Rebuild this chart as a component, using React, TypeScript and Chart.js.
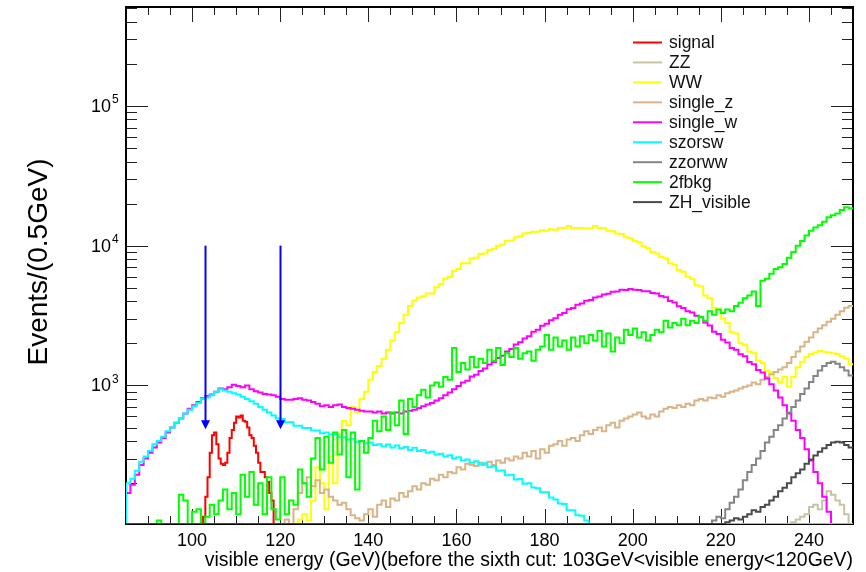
import React, { useEffect, useRef } from 'react';
import { Chart, registerables } from 'chart.js';

Chart.register(...registerables);

// ---- axis ranges ----
const X_MIN = 85;
const X_MAX = 250;
const Y_MIN = 102;
const Y_MAX = 5.1e5;
const FLOOR = Y_MIN;

const X_MAJOR_TICKS = [100, 120, 140, 160, 180, 200, 220, 240];
const Y_MAJOR_EXPONENTS = [3, 4, 5];

const X_TITLE = 'visible energy (GeV)(before the sixth cut: 103GeV<visible energy<120GeV)';
const Y_TITLE = 'Events/(0.5GeV)';

const ARROW_X = [103, 120];
const ARROW_TOP = 1e4;
const ARROW_TIP = 485;

// ---- series (start of first bin, bin width, contents) ----
const signalStart = 102.5;
const signalBin = 0.5;
const signal = [115, 160, 220, 330, 440, 460, 380, 300, 275, 270, 280, 330, 420, 480, 540, 600,
  590, 610, 560, 550, 500, 440, 420, 370, 330, 280, 240, 240, 220, 205, 170, 150];

const zzStart = 236;
const zz = [105, 110, 115, 120, 135, 140, 130, 150, 175, 165, 150, 140, 120];

const wwStart = 124;
const ww = [
  110, 120, 108, 150, 260, 200, 130, 310, 200, 450, 560, 520, 700, 640, 800, 900, // 124-139
  1100, 1250, 1380, 1550, 1800, 2100, 2400, 2800, 3200, 3700, // 140-149
  4050, 4250, 4350, 4550, 4550, 5050, 5300, 5800, 6000, 6600, // 150-159
  6800, 7500, 7500, 8100, 8200, 8700, 8800, 9300, 9500, 10000, // 160-169
  10200, 10800, 10900, 11500, 11700, 12200, 12300, 12600, 12600, 12900, // 170-179
  12800, 13100, 13000, 13400, 13400, 13800, 13400, 13400, 13300, 13300, // 180-189
  13300, 13800, 13400, 13300, 12800, 12700, 12200, 12100, 11500, 11300, // 190-199
  10800, 10600, 9900, 9600, 9000, 8800, 8300, 8100, 7500, 7300, // 200-209
  6700, 6500, 6000, 5800, 5200, 5100, 4400, 4200, 3600, 3500, // 210-219
  3000, 2800, 2400, 2350, 2000, 1950, 1750, 1700, 1500, 1450, // 220-229
  1280, 1250, 1130, 1050, 1150, 980, 1150, 1350, 1480, 1600, // 230-239
  1680, 1720, 1760, 1740, 1720, 1700, 1680, 1620, 1550, 1420, // 240-249
];

const singleZStart = 121;
const singleZ = [
  110, 0, 130, 170, 200, 220, 190, 210, 170, // 121-129
  180, 160, 150, 140, 145, 130, 118, 112, 108, 120, // 130-139
  130, 115, 140, 150, 135, 155, 150, 170, 160, 175, // 140-149
  190, 180, 200, 195, 215, 210, 230, 220, 240, 235, // 150-159
  260, 250, 275, 270, 265, 280, 270, 285, 270, 290, // 160-169
  280, 300, 290, 310, 300, 330, 310, 340, 300, 350, // 170-179
  330, 370, 380, 400, 370, 410, 420, 400, 440, 470, // 180-189
  450, 480, 500, 470, 520, 540, 500, 560, 580, 600, // 190-199
  620, 640, 600, 580, 620, 600, 650, 680, 700, 690, // 200-209
  720, 700, 740, 720, 780, 800, 780, 820, 810, 850, // 210-219
  830, 880, 900, 920, 950, 980, 1000, 1050, 1020, 1100, // 220-229
  1150, 1200, 1250, 1300, 1350, 1450, 1600, 1750, 1900, 2050, // 230-239
  2200, 2400, 2550, 2700, 2850, 3000, 3200, 3400, 3600, 3700, // 240-249
];

const singleWStart = 85;
const singleW = [
  170, 195, 230, 270, 300, // 85-89
  330, 360, 390, 420, 460, 500, 540, 580, 630, 680, // 90-99
  720, 760, 810, 840, 860, 900, 950, 940, 970, 1010, // 100-109
  990, 970, 1000, 940, 910, 890, 870, 860, 850, 830, // 110-119
  800, 790, 790, 800, 810, 790, 780, 760, 740, 710, // 120-129
  720, 700, 720, 730, 700, 690, 680, 670, 660, 650, // 130-139
  650, 640, 650, 630, 640, 630, 640, 630, 650, 660, // 140-149
  670, 690, 710, 730, 750, 780, 810, 850, 890, 940, // 150-159
  990, 1050, 1080, 1160, 1190, 1270, 1320, 1410, 1470, 1570, // 160-169
  1630, 1750, 1820, 1960, 2040, 2170, 2250, 2420, 2500, 2670, // 170-179
  2760, 2930, 3020, 3210, 3300, 3510, 3580, 3780, 3850, 4030, // 180-189
  4080, 4260, 4320, 4480, 4520, 4680, 4700, 4830, 4820, 4900, // 190-199
  4830, 4820, 4720, 4720, 4580, 4540, 4360, 4270, 4020, 3920, // 200-209
  3680, 3580, 3390, 3330, 3150, 3080, 2820, 2680, 2420, 2330, // 210-219
  2120, 2030, 1850, 1800, 1670, 1620, 1470, 1420, 1290, 1240, // 220-229
  1120, 1020, 920, 820, 720, 630, 560, 480, 420, 350, // 230-239
  290, 240, 200, 160, 125, // 240-244
];

const szorswStart = 85;
const szorsw = [
  200, 215, 245, 285, 310, // 85-89
  340, 380, 400, 430, 470, 500, 540, 580, 630, 670, // 90-99
  710, 750, 800, 820, 850, 900, 940, 920, 900, 880, // 100-109
  860, 830, 800, 770, 740, 700, 670, 640, 610, 580, // 110-119
  575, 545, 545, 515, 515, 495, 495, 475, 475, 455, // 120-129
  460, 445, 445, 425, 425, 410, 415, 395, 400, 385, // 130-139
  390, 375, 380, 365, 378, 360, 372, 355, 362, 345, // 140-149
  358, 340, 345, 330, 336, 320, 325, 310, 316, 300, // 150-159
  306, 290, 295, 280, 287, 272, 278, 260, 264, 245, // 160-169
  246, 228, 230, 212, 214, 198, 200, 186, 184, 172, // 170-179
  172, 158, 153, 143, 142, 128, 128, 118, 117, 108, // 180-189
];

const zzorwwStart = 218;
const zzorww = [108, 115, // 218-219
  112, 130, 145, 160, 180, 210, 240, 270, 300, 340, // 220-229
  390, 430, 480, 520, 580, 640, 700, 780, 870, 950, // 230-239
  1060, 1170, 1280, 1380, 1450, 1480, 1430, 1350, 1280, 1180, // 240-249
];

const fbkgStart = 92;
const fbkg = [
  108, 0, 0, 0, 0, 165, 150, 0, // 92-99
  125, 130, 0, 115, 140, 120, 150, 180, 130, 170, // 100-109
  120, 230, 160, 240, 140, 200, 120, 220, 130, 110, // 110-119
  220, 120, 150, 140, 250, 200, 160, 300, 420, 250, // 120-129
  430, 280, 460, 320, 480, 220, 460, 180, 400, 330, // 130-139
  420, 560, 470, 600, 480, 640, 520, 780, 450, 800, // 140-149
  700, 850, 930, 820, 1000, 1050, 980, 1150, 1100, 1850, // 150-159
  1250, 1450, 1300, 1600, 1350, 1550, 1450, 1800, 1500, 1850, // 160-169
  1400, 1700, 1600, 1850, 1550, 1700, 1750, 1500, 1800, 1900, // 170-179
  2300, 1800, 2200, 1900, 2100, 1800, 2200, 1900, 2250, 2000, // 180-189
  2300, 2100, 2450, 1900, 2350, 1750, 2200, 2000, 2500, 2300, // 190-199
  2550, 2200, 2400, 2100, 2300, 2500, 2400, 2900, 2600, 2800, // 200-209
  2700, 3000, 2700, 2900, 2800, 3100, 2900, 3400, 3200, 3500, // 210-219
  3300, 3500, 3400, 3700, 3900, 4200, 4400, 4700, 3700, 5600, // 220-229
  5800, 6300, 6800, 7000, 7400, 8200, 9000, 10000, 10800, 11800, // 230-239
  12800, 13500, 14000, 14800, 16000, 16500, 17000, 18000, 18800, 18500, // 240-249
];

const zhStart = 221;
const zhVisible = [105, 108, 112, 110, 115, 120, 128, 125, 135, // 221-229
  140, 150, 160, 175, 185, 200, 220, 235, 250, 275, // 230-239
  295, 315, 335, 355, 375, 390, 395, 390, 375, 360, // 240-249
];

const SERIES = [
  { label: 'signal', color: '#ff0000', start: signalStart, bin: signalBin, values: signal },
  { label: 'ZZ', color: '#c8c2a6', start: zzStart, bin: 1, values: zz },
  { label: 'WW', color: '#ffff00', start: wwStart, bin: 1, values: ww },
  { label: 'single_z', color: '#d8b488', start: singleZStart, bin: 1, values: singleZ },
  { label: 'single_w', color: '#ff00ff', start: singleWStart, bin: 1, values: singleW },
  { label: 'szorsw', color: '#00ffff', start: szorswStart, bin: 1, values: szorsw },
  { label: 'zzorww', color: '#858585', start: zzorwwStart, bin: 1, values: zzorww },
  { label: '2fbkg', color: '#00ff00', start: fbkgStart, bin: 1, values: fbkg },
  { label: 'ZH_visible', color: '#4a4a4a', start: zhStart, bin: 1, values: zhVisible },
];

function histPoints(start: number, bin: number, values: number[]) {
  const pts: { x: number; y: number }[] = [];
  pts.push({ x: X_MIN, y: FLOOR });
  values.forEach((v, i) => {
    pts.push({ x: start + i * bin, y: v > FLOOR ? v : FLOOR });
  });
  const end = start + values.length * bin;
  if (end >= X_MAX) {
    const last = values[values.length - 1];
    pts.push({ x: X_MAX, y: last > FLOOR ? last : FLOOR });
  } else {
    pts.push({ x: end, y: FLOOR });
    pts.push({ x: X_MAX, y: FLOOR });
  }
  return pts;
}

const FONT = '"Liberation Sans", Arial, Helvetica, sans-serif';

const framePlugin = {
  id: 'rootFrame',
  beforeDatasetsDraw(chart: any) {
    const { ctx, chartArea: a, scales } = chart;
    const xs = scales.x;
    const ys = scales.y;
    ctx.save();
    ctx.strokeStyle = '#222';
    ctx.lineWidth = 1;
    ctx.beginPath();
    for (let v = 90; v < X_MAX; v += 5) {
      const px = Math.round(xs.getPixelForValue(v)) + 0.5;
      const major = X_MAJOR_TICKS.includes(v);
      const len = major ? 15 : 8;
      ctx.moveTo(px, a.bottom);
      ctx.lineTo(px, a.bottom - len);
      ctx.moveTo(px, a.top);
      ctx.lineTo(px, a.top + len);
    }
    for (let e = 2; e <= 5; e++) {
      for (let k = 1; k <= 9; k++) {
        const v = k * Math.pow(10, e);
        if (v < Y_MIN || v > Y_MAX) continue;
        const py = Math.round(ys.getPixelForValue(v)) + 0.5;
        const len = k === 1 ? 22 : 11;
        ctx.moveTo(a.left, py);
        ctx.lineTo(a.left + len, py);
        ctx.moveTo(a.right, py);
        ctx.lineTo(a.right - len, py);
      }
    }
    ctx.stroke();
    ctx.strokeStyle = '#000';
    ctx.lineWidth = 2;
    ctx.strokeRect(a.left, a.top, a.right - a.left, a.bottom - a.top);
    ctx.restore();
  },
};

const overlayPlugin = {
  id: 'rootOverlay',
  afterDatasetsDraw(chart: any) {
    const { ctx, chartArea: a, scales } = chart;
    const xs = scales.x;
    const ys = scales.y;
    ctx.save();

    // arrows
    ctx.strokeStyle = '#0000ff';
    ctx.fillStyle = '#0000ff';
    ctx.lineWidth = 2;
    ARROW_X.forEach((xv) => {
      const px = Math.round(xs.getPixelForValue(xv)) + 0.5;
      const y0 = ys.getPixelForValue(ARROW_TOP);
      const y1 = ys.getPixelForValue(ARROW_TIP);
      ctx.beginPath();
      ctx.moveTo(px, y0);
      ctx.lineTo(px, y1 - 7);
      ctx.stroke();
      ctx.beginPath();
      ctx.moveTo(px - 4.5, y1 - 9);
      ctx.lineTo(px + 4.5, y1 - 9);
      ctx.lineTo(px, y1);
      ctx.closePath();
      ctx.fill();
    });

    // x tick labels
    ctx.fillStyle = '#000';
    ctx.font = `18px ${FONT}`;
    ctx.textAlign = 'center';
    ctx.textBaseline = 'alphabetic';
    X_MAJOR_TICKS.forEach((v) => {
      ctx.fillText(String(v), xs.getPixelForValue(v), 546);
    });

    // y tick labels (10^n)
    Y_MAJOR_EXPONENTS.forEach((e) => {
      const py = ys.getPixelForValue(Math.pow(10, e));
      ctx.font = `18px ${FONT}`;
      ctx.textAlign = 'right';
      ctx.textBaseline = 'middle';
      ctx.fillText('10', 111, py + 1);
      ctx.font = `12px ${FONT}`;
      ctx.textAlign = 'left';
      ctx.fillText(String(e), 112, py - 6);
    });

    // x title
    ctx.font = `18px ${FONT}`;
    const w18 = ctx.measureText(X_TITLE).width;
    const fs = (18 * 649) / w18;
    ctx.font = `${fs.toFixed(2)}px ${FONT}`;
    ctx.textAlign = 'right';
    ctx.textBaseline = 'alphabetic';
    ctx.fillText(X_TITLE, a.right, 566);

    // y title
    ctx.save();
    ctx.translate(47, 262);
    ctx.rotate(-Math.PI / 2);
    ctx.font = `28px ${FONT}`;
    ctx.textAlign = 'center';
    ctx.textBaseline = 'alphabetic';
    ctx.fillText(Y_TITLE, 0, 0);
    ctx.restore();

    // legend
    ctx.font = `17.5px ${FONT}`;
    ctx.textAlign = 'left';
    ctx.textBaseline = 'middle';
    SERIES.forEach((s, i) => {
      const y = 42.5 + i * 19.95;
      ctx.strokeStyle = s.color;
      ctx.lineWidth = 2;
      ctx.beginPath();
      ctx.moveTo(633, y);
      ctx.lineTo(662, y);
      ctx.stroke();
      ctx.fillStyle = '#111';
      ctx.fillText(s.label, 669, y + 1);
    });

    ctx.restore();
  },
};

export default function App() {
  const ref = useRef<HTMLCanvasElement>(null);

  useEffect(() => {
    if (!ref.current) return;
    const chart = new Chart(ref.current, {
      type: 'line',
      data: {
        datasets: SERIES.map((s, i) => ({
          label: s.label,
          data: histPoints(s.start, s.bin, s.values),
          borderColor: s.color,
          backgroundColor: s.color,
          borderWidth: 2,
          pointRadius: 0,
          stepped: true,
          tension: 0,
          fill: false,
          order: -i,
        })),
      },
      options: {
        responsive: false,
        maintainAspectRatio: false,
        animation: false,
        devicePixelRatio: 1,
        parsing: false,
        layout: { padding: { left: 126, right: 13, top: 7, bottom: 48 } },
        scales: {
          x: { type: 'linear', min: X_MIN, max: X_MAX, display: false },
          y: { type: 'logarithmic', min: Y_MIN, max: Y_MAX, display: false },
        },
        plugins: {
          legend: { display: false },
          tooltip: { enabled: false },
          title: { display: false },
        },
        events: [],
      },
      plugins: [framePlugin, overlayPlugin],
    } as any);
    return () => chart.destroy();
  }, []);

  return (
    <div style={{ position: 'fixed', left: 0, top: 0, width: 866, height: 572, background: '#fff' }}>
      <canvas ref={ref} width={866} height={572} style={{ width: 866, height: 572, display: 'block' }} />
    </div>
  );
}
